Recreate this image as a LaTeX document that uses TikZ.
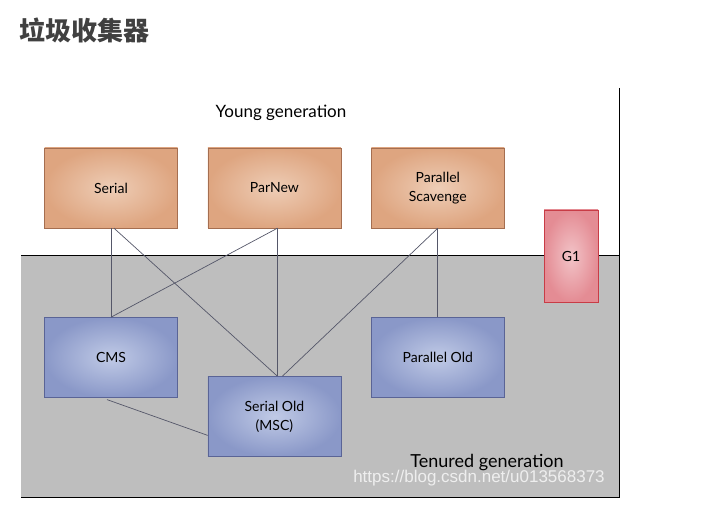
\documentclass[tikz,border=0pt]{standalone}
\usepackage{fontspec}
\setmainfont{Lato}
\newfontfamily\cjk{Noto Sans CJK SC}
\newfontfamily\wmfont{Liberation Sans}
\usetikzlibrary{positioning}

\definecolor{younginner}{RGB}{238,205,182}
\definecolor{youngouter}{RGB}{222,165,128}
\definecolor{youngedge}{RGB}{165,110,80}
\definecolor{tenurinner}{RGB}{192,202,230}
\definecolor{tenurouter}{RGB}{138,152,200}
\definecolor{tenuredge}{RGB}{90,100,150}
\definecolor{gonein}{RGB}{242,196,200}
\definecolor{goneout}{RGB}{228,140,148}
\definecolor{goneedge}{RGB}{200,60,70}
\definecolor{tenuredbg}{RGB}{190,190,190}
\definecolor{linkgray}{RGB}{85,87,105}
\definecolor{titlegray}{RGB}{64,64,64}

\begin{document}
\begin{tikzpicture}[x=1pt, y=-1pt,
    young/.style={rectangle, draw=youngedge, inner color=younginner, outer color=youngouter, minimum width=133pt, minimum height=80pt, align=center, font=\fontsize{14}{19}\selectfont},
    tenured/.style={young, draw=tenuredge, inner color=tenurinner, outer color=tenurouter},
    gonebox/.style={young, draw=goneedge, inner color=gonein, outer color=goneout, minimum width=54pt, minimum height=92pt},
    link/.style={draw=linkgray, line width=0.7pt}
  ]
    \useasboundingbox (0,0) rectangle (719,510);
    \node[anchor=west, text=titlegray, font=\cjk\bfseries\fontsize{26}{30}\selectfont] (title) at (16,30) {垃圾收集器};

    % generations
    \fill[tenuredbg] (21,255) rectangle (619,497);
    \draw[line width=0.8pt] (21,255) -- (619,255);
    \draw[line width=0.8pt] (619,88) -- (619,497) -- (21,497);
    \node[font=\fontsize{17}{20}\selectfont] (yg) at (281,113) {Young generation};
    \node[font=\fontsize{18}{21}\selectfont] (tg) at (487,463) {Tenured generation};

    % collectors
    \node[young] (serial) at (111,188) {Serial};
    \node[young, right=30pt of serial] (parnew) {ParNew};
    \node[young, right=30pt of parnew] (pscav) {Parallel\\Scavenge};
    \node[tenured, below=89pt of serial] (cms) {CMS};
    \node[tenured, below=89pt of pscav] (pold) {Parallel Old};
    \node[tenured, below=148pt of parnew] (sold) {Serial Old\\(MSC)};
    \node[gonebox] (g1) at (571,256) {G1};

    \draw[link] (serial.south) -- (cms.north);
    \draw[link] ([xshift=3pt]serial.south) -- ([xshift=3pt]sold.north);
    \draw[link] ([xshift=3pt]parnew.south) -- ([xshift=3pt]sold.north);
    \draw[link] ([xshift=3pt]parnew.south) -- (cms.north);
    \draw[link] (pscav.south) -- (pold.north);
    \draw[link] (pscav.south) -- ([xshift=8pt]sold.north);
    \draw[link] ([xshift=-4pt,yshift=-2pt]cms.south) -- ([yshift=-19pt]sold.west);

    \node[text=white, opacity=0.75, font=\wmfont\fontsize{17}{20}\selectfont] (wm) at (479,478) {https://blog.csdn.net/u013568373};
  \end{tikzpicture}
\end{document}
